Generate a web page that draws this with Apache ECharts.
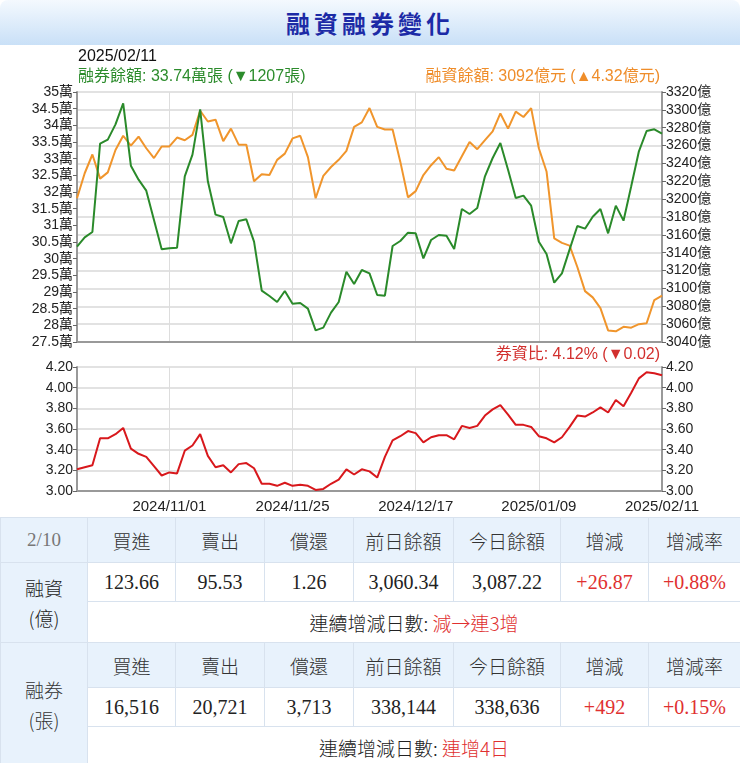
<!DOCTYPE html>
<html><head><meta charset="utf-8">
<script src="https://cdn.jsdelivr.net/npm/echarts@6/dist/echarts.min.js"></script>
<style>
body{margin:0;width:740px;height:763px;overflow:hidden;background:#fff;font-family:"Liberation Sans","Noto Sans CJK TC",sans-serif;}
#title{position:absolute;left:0;top:0;width:740px;height:45px;background:linear-gradient(#f4f9fe,#c9e0f7);border-radius:8px 8px 0 0;text-align:center;line-height:45px;font-size:24px;font-weight:bold;color:#1c2aa6;letter-spacing:4px;font-family:"Noto Sans CJK TC",sans-serif;}
#chart{position:absolute;left:0;top:45px;width:740px;height:472px;}
table{position:absolute;left:0;top:517px;width:740px;border-collapse:collapse;table-layout:fixed;font-family:"Liberation Serif","Noto Sans CJK TC",serif;font-size:20px;color:#222;}
td{border:1px solid #d8e2ee;text-align:center;padding:0;}
.h td{background:#e8f2fc;height:44px;font-family:"Noto Sans CJK TC",sans-serif;font-size:19px;font-weight:300;color:#333;}
.h td.d{color:#777;font-family:"Liberation Serif",serif;}
.side{background:#e8f2fc;font-family:"Noto Sans CJK TC",sans-serif;font-size:19px;font-weight:300;line-height:30px;}
.v td{height:38px;}
.r{color:#e03030;}
.c td{height:40px;font-family:"Noto Sans CJK TC",sans-serif;font-size:19px;font-weight:300;}
</style></head><body>
<div id="title">融資融券變化</div>
<div id="chart"></div>
<table>
<colgroup><col style="width:87px"><col style="width:88px"><col style="width:89px"><col style="width:89px"><col style="width:100px"><col style="width:107px"><col style="width:88px"><col style="width:92px"></colgroup>
<tr class="h"><td class="d">2/10</td><td>買進</td><td>賣出</td><td>償還</td><td>前日餘額</td><td>今日餘額</td><td>增減</td><td>增減率</td></tr>
<tr class="v"><td class="side" rowspan="2">融資<br>(億)</td><td>123.66</td><td>95.53</td><td>1.26</td><td>3,060.34</td><td>3,087.22</td><td class="r">+26.87</td><td class="r">+0.88%</td></tr>
<tr class="c"><td colspan="7">連續增減日數: <span class="r">減→連3增</span></td></tr>
<tr class="h"><td class="side" rowspan="3" style="background:#e8f2fc">融券<br>(張)</td><td>買進</td><td>賣出</td><td>償還</td><td>前日餘額</td><td>今日餘額</td><td>增減</td><td>增減率</td></tr>
<tr class="v"><td>16,516</td><td>20,721</td><td>3,713</td><td>338,144</td><td>338,636</td><td class="r">+492</td><td class="r">+0.15%</td></tr>
<tr class="c"><td colspan="7">連續增減日數: <span class="r">連增4日</span></td></tr>
</table>
<script>
const categories=["2024/10/15","2024/10/16","2024/10/17","2024/10/18","2024/10/21","2024/10/22","2024/10/23","2024/10/24","2024/10/25","2024/10/28","2024/10/29","2024/10/30",
"2024/11/01","2024/11/04","2024/11/05","2024/11/06","2024/11/07","2024/11/08","2024/11/11","2024/11/12","2024/11/13","2024/11/14","2024/11/15","2024/11/18","2024/11/19","2024/11/20","2024/11/21","2024/11/22",
"2024/11/25","2024/11/26","2024/11/27","2024/11/28","2024/11/29","2024/12/02","2024/12/03","2024/12/04","2024/12/05","2024/12/06","2024/12/09","2024/12/10","2024/12/11","2024/12/12","2024/12/13","2024/12/16",
"2024/12/17","2024/12/18","2024/12/19","2024/12/20","2024/12/23","2024/12/24","2024/12/25","2024/12/26","2024/12/27","2024/12/30","2024/12/31","2025/01/02","2025/01/03","2025/01/06","2025/01/07","2025/01/08",
"2025/01/09","2025/01/10","2025/01/13","2025/01/14","2025/01/15","2025/01/16","2025/01/17","2025/01/20","2025/01/21","2025/01/22","2025/02/03","2025/02/04","2025/02/05","2025/02/06","2025/02/07","2025/02/10","2025/02/11"];
const shortBalance=[30.36,30.64,30.80,33.45,33.57,34.03,34.66,32.79,32.37,32.04,31.16,30.28,30.31,30.33,32.47,33.12,34.48,32.32,31.32,31.25,30.46,31.13,31.18,30.51,29.04,28.88,28.70,29.03,28.65,28.67,28.50,27.85,27.93,28.38,28.70,29.61,29.24,29.66,29.56,28.91,28.89,30.38,30.53,30.78,30.76,30.01,30.56,30.71,30.69,30.29,31.49,31.34,31.52,32.47,33.02,33.47,32.67,31.82,31.89,31.59,30.51,30.14,29.28,29.56,30.28,30.98,30.90,31.26,31.49,30.76,31.59,31.14,32.17,33.22,33.83,33.88,33.75];
const marginBalance=[3201,3229,3250,3223,3230,3255,3271,3260,3270,3257,3246,3259,3259,3269,3266,3272,3299,3287,3289,3265,3279,3261,3261,3220,3228,3227,3244,3251,3268,3271,3247,3201,3226,3236,3244,3254,3281,3286,3302,3281,3278,3278,3242,3202,3209,3227,3238,3247,3234,3232,3248,3264,3256,3266,3276,3296,3279,3298,3292,3302,3257,3231,3156,3151,3148,3124,3097,3090,3078,3053,3052,3057,3056,3060,3061,3087,3092];
const ratio=[3.21,3.23,3.25,3.51,3.51,3.55,3.61,3.41,3.36,3.33,3.24,3.15,3.18,3.17,3.39,3.44,3.55,3.34,3.23,3.25,3.18,3.26,3.27,3.22,3.07,3.07,3.05,3.08,3.05,3.06,3.05,3.01,3.02,3.07,3.11,3.21,3.16,3.21,3.19,3.13,3.33,3.49,3.53,3.58,3.56,3.47,3.52,3.54,3.54,3.50,3.63,3.61,3.63,3.73,3.79,3.83,3.74,3.64,3.64,3.62,3.53,3.51,3.47,3.52,3.62,3.73,3.72,3.76,3.81,3.76,3.88,3.82,3.95,4.09,4.15,4.14,4.12];
const labelIdx=[12,28,44,60,76];
const F='"Liberation Sans Narrow","Liberation Sans",Arial,"Noto Sans CJK TC",sans-serif';
const lblShow=(i)=>labelIdx.indexOf(i)>=0;
const axBase={axisLine:{show:true,lineStyle:{color:'#999',width:2}},axisTick:{show:true,length:4,lineStyle:{color:'#666'}},axisLabel:{color:'#222',fontSize:14,fontFamily:F,margin:4}};
const ch=echarts.init(document.getElementById('chart'));
ch.setOption({
animation:false,
grid:[{left:77,right:78,top:47,height:250},{left:77,right:78,top:322,height:124}],
graphic:[
{type:'text',left:78,top:4,style:{text:'2025/02/11',font:'16px '+F,fill:'#111'}},
{type:'text',left:78,top:24,style:{text:'融券餘額: 33.74萬張 (▼1207張)',font:'16px '+F,fill:'#2c8c2c'}},
{type:'text',right:80,top:24,style:{text:'融資餘額: 3092億元 (▲4.32億元)',font:'16px '+F,fill:'#ef8d2a'}},
{type:'text',right:80,top:302,style:{text:'券資比: 4.12% (▼0.02)',font:'16px '+F,fill:'#d2302e'}}
],
xAxis:[
{type:'category',gridIndex:0,data:categories,boundaryGap:false,axisLine:{lineStyle:{color:'#999',width:2}},axisTick:{show:false},axisLabel:{show:false},splitLine:{show:true,interval:(i)=>lblShow(i),lineStyle:{color:'#ddd'}}},
{type:'category',gridIndex:1,data:categories,boundaryGap:false,axisLine:{lineStyle:{color:'#999',width:2}},axisTick:{show:false},axisLabel:{interval:(i)=>lblShow(i),color:'#222',fontSize:15,fontFamily:F,margin:8},splitLine:{show:true,interval:(i)=>lblShow(i),lineStyle:{color:'#ddd'}}}
],
yAxis:[
Object.assign({type:'value',gridIndex:0,position:'left',min:27.5,max:35,interval:0.5,splitLine:{show:false}},axBase,{axisLabel:Object.assign({},axBase.axisLabel,{formatter:v=>v+'萬'})}),
Object.assign({type:'value',gridIndex:0,position:'right',min:3040,max:3320,interval:20,splitLine:{show:true,lineStyle:{color:'#e2e2e2',width:2}}},axBase,{axisLabel:Object.assign({},axBase.axisLabel,{formatter:v=>v+'億'})}),
Object.assign({type:'value',gridIndex:1,position:'left',min:3,max:4.2,interval:0.2,splitLine:{show:true,lineStyle:{color:'#e2e2e2',width:2}}},axBase,{axisLabel:Object.assign({},axBase.axisLabel,{formatter:v=>v.toFixed(2)})}),
Object.assign({type:'value',gridIndex:1,position:'right',min:3,max:4.2,interval:0.2,splitLine:{show:false}},axBase,{axisLabel:Object.assign({},axBase.axisLabel,{formatter:v=>v.toFixed(2)})})
],
series:[
{type:'line',xAxisIndex:0,yAxisIndex:1,data:marginBalance,symbol:'none',lineStyle:{color:'#f0952c',width:2}},
{type:'line',xAxisIndex:0,yAxisIndex:0,data:shortBalance,symbol:'none',lineStyle:{color:'#2a8a2a',width:2}},
{type:'line',xAxisIndex:1,yAxisIndex:2,data:ratio,symbol:'none',lineStyle:{color:'#d8181c',width:2}}
]
});
</script></body></html>
